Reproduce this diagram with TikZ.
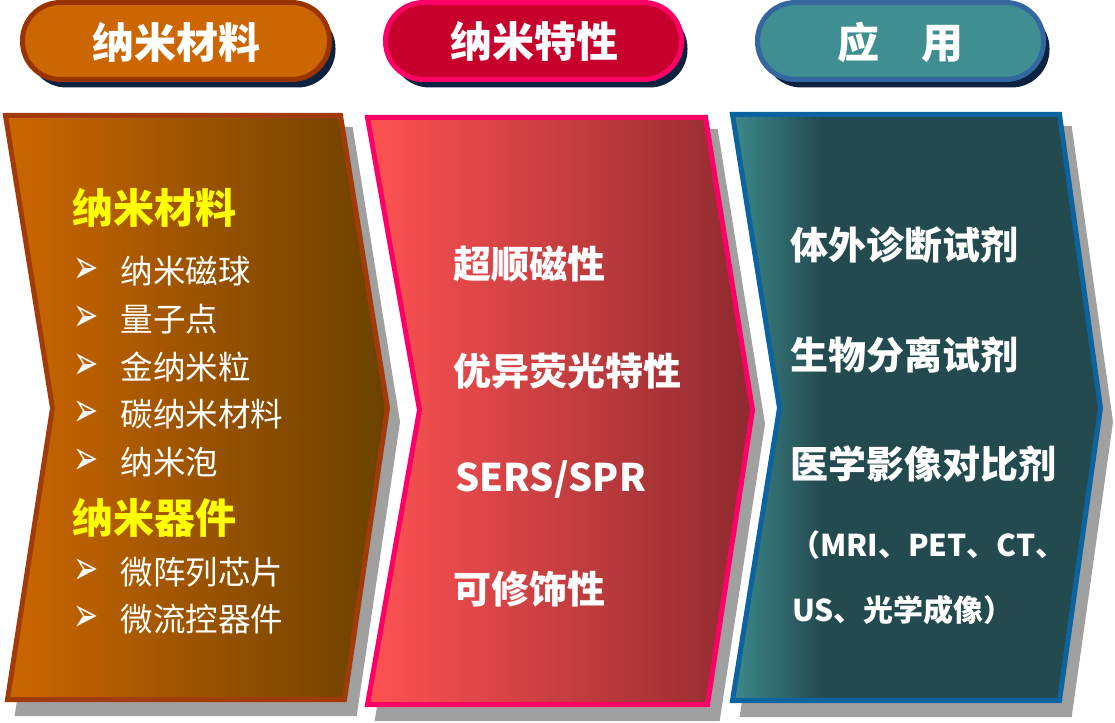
\documentclass[tikz,border=0pt]{standalone}
\usepackage{fontspec}
\usepackage{graphicx}
\newfontfamily\cjk{Noto Sans CJK SC}
\newfontfamily\dejavu{DejaVu Sans}
\definecolor{oL}{HTML}{CC6600}
\definecolor{oR}{HTML}{6B4100}
\definecolor{oB}{HTML}{A13C0A}
\definecolor{rL}{HTML}{FF5252}
\definecolor{rR}{HTML}{8E2A2E}
\definecolor{rB}{HTML}{FF0066}
\definecolor{tL}{HTML}{3E8C8E}
\definecolor{tD}{HTML}{234A4E}
\definecolor{tB}{HTML}{0B64A0}
\definecolor{pO}{HTML}{CC6600}
\definecolor{pOB}{HTML}{993300}
\definecolor{pR}{HTML}{C8002C}
\definecolor{pRB}{HTML}{FF0066}
\definecolor{pT}{HTML}{3E8E92}
\definecolor{pTB}{HTML}{3466A0}
\definecolor{navy}{HTML}{0D2140}
\definecolor{shgrey}{HTML}{A0A0A0}
\definecolor{yel}{HTML}{FFFF00}
\newcommand\leftpanel{(5.5,115.5) -- (340.5,115.5) -- (387.5,408) -- (344.5,699.5) -- (7.5,699.5) -- (52.5,408) -- cycle}
\newcommand\midpanel{(367.5,117.5) -- (705.5,117.5) -- (752.5,410) -- (707.5,704.5) -- (367.5,704.5) -- (419.5,410) -- cycle}
\newcommand\rightpanel{(732.5,114.5) -- (1059.5,114.5) -- (1100.5,408) -- (1059.5,700.5) -- (732.5,700.5) -- (779.5,408) -- cycle}
\newcommand\bulletglyph{\scalebox{1}[1.6]{➢}}
\begin{document}
\begin{tikzpicture}[x=1pt,y=-1pt,
  pillshape/.style={line width=5pt, rounded corners=38pt},
  pillshadow/.style={fill=navy, rounded corners=38pt},
  panelborder/.style={line width=5pt, line join=miter},
  panelshadow/.style={fill=shgrey, draw=shgrey, line width=5pt, line join=miter, shift={(10,14)}},
  pilltext/.style={font=\cjk\bfseries\fontsize{42}{50}\selectfont, text=white, inner sep=0pt},
  heady/.style={font=\cjk\bfseries\fontsize{41}{49}\selectfont, text=yel, anchor=west, inner sep=0pt},
  itemtext/.style={font=\cjk\fontsize{32.5}{39}\selectfont, text=white, anchor=west, inner sep=0pt},
  bul/.style={font=\dejavu\fontsize{30}{36}\selectfont, text=white, anchor=west, inner sep=0pt},
  bigtext/.style={font=\cjk\bfseries\fontsize{38}{46}\selectfont, text=white, anchor=west, inner sep=0pt},
  smalltext/.style={font=\cjk\bfseries\fontsize{30}{36}\selectfont, text=white, anchor=west, inner sep=0pt}]
\useasboundingbox (0,0) rectangle (1115,722);
\fill[white] (0,0) rectangle (1115,722);

% ---- pills ----
\fill[pillshadow] (28.5,10.5) rectangle (335.5,87.5);
\draw[pillshape, draw=pOB, fill=pO] (22.5,2.5) rectangle (329.5,79.5);
\node[pilltext] (pill1) at (176,42) {纳米材料};

\fill[pillshadow] (391.5,10.5) rectangle (687.5,87.5);
\draw[pillshape, draw=pRB, fill=pR] (385.5,2.5) rectangle (681.5,79.5);
\node[pilltext] (pill2) at (534,41) {纳米特性};

\fill[pillshadow] (763.5,10.5) rectangle (1049.5,87.5);
\draw[pillshape, draw=pTB, fill=pT] (757.5,2.5) rectangle (1043.5,79.5);
\node[pilltext] (pill3) at (900,42) {应　用};

% ---- panel shadows ----
\path[panelshadow] \leftpanel;
\path[panelshadow] \midpanel;
\path[panelshadow] \rightpanel;

% ---- left panel ----
\shade[left color=oL, right color=oR] \leftpanel;
\draw[panelborder, draw=oB] \leftpanel;

% ---- middle panel ----
\shade[left color=rL, right color=rR] \midpanel;
\draw[panelborder, draw=rB] \midpanel;

% ---- right panel ----
\begin{scope}
  \clip \rightpanel;
  \fill[tD] (720,100) rectangle (1115,722);
  \shade[left color=tL, right color=tD] (728,100) rectangle (823,722);
\end{scope}
\draw[panelborder, draw=tB] \rightpanel;

% ---- left texts ----
\node[heady] (h1) at (72,208) {纳米材料};
\node[bul] (b1) at (73,271) {\bulletglyph};
\node[itemtext] (i1) at (120.5,271) {纳米磁球};
\node[bul] (b2) at (73,319) {\bulletglyph};
\node[itemtext] (i2) at (120.5,319) {量子点};
\node[bul] (b3) at (73,367) {\bulletglyph};
\node[itemtext] (i3) at (120.5,367) {金纳米粒};
\node[bul] (b4) at (73,414) {\bulletglyph};
\node[itemtext] (i4) at (120.5,414) {碳纳米材料};
\node[bul] (b5) at (73,462) {\bulletglyph};
\node[itemtext] (i5) at (120.5,462) {纳米泡};
\node[heady] (h2) at (72,518) {纳米器件};
\node[bul] (b6) at (73,572) {\bulletglyph};
\node[itemtext] (i6) at (120.5,572) {微阵列芯片};
\node[bul] (b7) at (73,619) {\bulletglyph};
\node[itemtext] (i7) at (120.5,619) {微流控器件};

% ---- middle texts ----
\node[bigtext] (m1) at (453.5,264) {超顺磁性};
\node[bigtext] (m2) at (453.5,371) {优异荧光特性};
\node[bigtext] (m3) at (455,480) {SERS/SPR};
\node[bigtext] (m4) at (453.5,589) {可修饰性};

% ---- right texts ----
\node[bigtext] (r1) at (790.5,245) {体外诊断试剂};
\node[bigtext] (r2) at (790.5,355) {生物分离试剂};
\node[bigtext] (r3) at (790.5,464) {医学影像对比剂};
\node[smalltext] (r4) at (790,545) {（MRI、PET、CT、};
\node[smalltext] (r5) at (792,610) {US、光学成像）};
\end{tikzpicture}
\end{document}
